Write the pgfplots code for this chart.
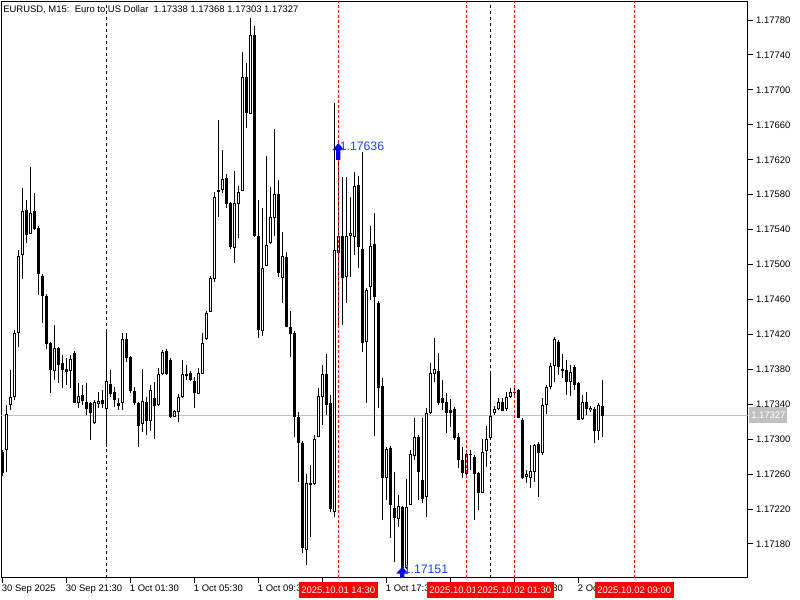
\documentclass[border=0pt]{standalone}
\usepackage{fontspec}
\setmainfont{Liberation Sans}
\usepackage{pgfplots}
\usepackage{pgfplotstable}
\pgfplotsset{compat=1.18}
\newcommand\mtfont{\fontsize{7.1}{8.5}\selectfont}
\newcommand\arrowfont{\fontsize{9.2}{11}\selectfont}
\definecolor{pricegrey}{RGB}{192,192,192}
\definecolor{mtblue}{RGB}{0,0,255}
\definecolor{mtlabel}{RGB}{30,70,255}
\definecolor{mtred}{RGB}{255,0,0}
% MT5 style up arrow, tip at the anchor price
\pgfdeclareplotmark{mtarrow}{%
  \pgfpathmoveto{\pgfqpoint{0pt}{2pt}}%
  \pgfpathlineto{\pgfqpoint{4.4pt}{-3.2pt}}%
  \pgfpathlineto{\pgfqpoint{1.6pt}{-3.2pt}}%
  \pgfpathlineto{\pgfqpoint{1.6pt}{-10.5pt}}%
  \pgfpathlineto{\pgfqpoint{-1.6pt}{-10.5pt}}%
  \pgfpathlineto{\pgfqpoint{-1.6pt}{-3.2pt}}%
  \pgfpathlineto{\pgfqpoint{-4.4pt}{-3.2pt}}%
  \pgfpathclose
  \pgfusepathqfill}

% bar index (0 = 1 Oct 00:00, M15), open, high, low, close
\pgfplotstableread{
x o h l c
-26 1.17285 1.17288 1.17258 1.17261
-25 1.17288 1.17339 1.17262 1.17329
-24 1.17339 1.17379 1.17333 1.17348
-23 1.17348 1.17425 1.17345 1.17422
-22 1.17422 1.17517 1.17406 1.17510
-21 1.17511 1.17588 1.17483 1.17561
-20 1.17562 1.17574 1.17525 1.17534
-19 1.17535 1.17612 1.17535 1.17559
-18 1.17561 1.17582 1.17540 1.17541
-17 1.17542 1.17542 1.17465 1.17489
-16 1.17487 1.17487 1.17433 1.17464
-15 1.17464 1.17464 1.17403 1.17409
-14 1.17410 1.17410 1.17353 1.17379
-13 1.17378 1.17431 1.17368 1.17404
-12 1.17404 1.17404 1.17364 1.17385
-11 1.17387 1.17396 1.17359 1.17379
-10 1.17380 1.17393 1.17362 1.17377
-9 1.17378 1.17396 1.17359 1.17392
-8 1.17399 1.17399 1.17341 1.17341
-7 1.17341 1.17364 1.17336 1.17350
-6 1.17351 1.17362 1.17339 1.17344
-5 1.17343 1.17364 1.17328 1.17335
-4 1.17341 1.17341 1.17299 1.17330
-3 1.17319 1.17345 1.17317 1.17343
-2 1.17340 1.17354 1.17336 1.17344
-1 1.17345 1.17356 1.17336 1.17340
0 1.17335 1.17423 1.17291 1.17367
1 1.17363 1.17379 1.17348 1.17352
2 1.17354 1.17360 1.17337 1.17345
3 1.17341 1.17347 1.17333 1.17338
4 1.17341 1.17422 1.17333 1.17415
5 1.17415 1.17422 1.17388 1.17393
6 1.17394 1.17394 1.17353 1.17355
7 1.17355 1.17360 1.17339 1.17341
8 1.17341 1.17341 1.17291 1.17315
9 1.17317 1.17380 1.17308 1.17344
10 1.17343 1.17348 1.17305 1.17321
11 1.17321 1.17362 1.17309 1.17356
12 1.17347 1.17366 1.17300 1.17338
13 1.17339 1.17382 1.17338 1.17375
14 1.17375 1.17402 1.17374 1.17400
15 1.17401 1.17402 1.17374 1.17375
16 1.17391 1.17392 1.17324 1.17325
17 1.17325 1.17333 1.17325 1.17332
18 1.17331 1.17352 1.17320 1.17348
19 1.17348 1.17391 1.17347 1.17375
20 1.17375 1.17385 1.17368 1.17372
21 1.17376 1.17376 1.17367 1.17368
22 1.17367 1.17371 1.17336 1.17353
23 1.17352 1.17382 1.17352 1.17376
24 1.17375 1.17422 1.17375 1.17410
25 1.17415 1.17446 1.17414 1.17445
26 1.17446 1.17486 1.17446 1.17485
27 1.17483 1.17583 1.17480 1.17577
28 1.17585 1.17666 1.17554 1.17583
29 1.17585 1.17631 1.17582 1.17598
30 1.17599 1.17604 1.17565 1.17569
31 1.17570 1.17570 1.17518 1.17520
32 1.17519 1.17607 1.17502 1.17570
33 1.17569 1.17590 1.17530 1.17583
34 1.17584 1.17743 1.17584 1.17715
35 1.17715 1.17731 1.17656 1.17674
36 1.17672 1.17782 1.17672 1.17763
37 1.17763 1.17773 1.17532 1.17533
38 1.17533 1.17574 1.17416 1.17425
39 1.17424 1.17565 1.17418 1.17496
40 1.17498 1.17624 1.17498 1.17522
41 1.17525 1.17589 1.17524 1.17554
42 1.17553 1.17655 1.17533 1.17581
43 1.17581 1.17597 1.17486 1.17490
44 1.17485 1.17537 1.17456 1.17510
45 1.17509 1.17514 1.17428 1.17428
46 1.17428 1.17447 1.17394 1.17420
47 1.17422 1.17422 1.17303 1.17325
48 1.17325 1.17331 1.17251 1.17296
49 1.17296 1.17297 1.17170 1.17175
50 1.17173 1.17260 1.17156 1.17250
51 1.17250 1.17270 1.17188 1.17248
52 1.17249 1.17305 1.17248 1.17300
53 1.17303 1.17359 1.17303 1.17350
54 1.17348 1.17385 1.17316 1.17375
55 1.17375 1.17398 1.17328 1.17339
56 1.17341 1.17351 1.17217 1.17220
57 1.17217 1.17685 1.17211 1.17517
58 1.17513 1.17636 1.17431 1.17533
59 1.17533 1.17600 1.17431 1.17485
60 1.17486 1.17600 1.17456 1.17533
61 1.17533 1.17577 1.17486 1.17536
62 1.17532 1.17606 1.17511 1.17590
63 1.17591 1.17601 1.17496 1.17520
64 1.17518 1.17629 1.17400 1.17410
65 1.17411 1.17471 1.17341 1.17471
66 1.17474 1.17544 1.17459 1.17521
67 1.17524 1.17559 1.17304 1.17463
68 1.17456 1.17456 1.17336 1.17359
69 1.17361 1.17370 1.17208 1.17256
70 1.17256 1.17289 1.17230 1.17289
71 1.17290 1.17290 1.17187 1.17225
72 1.17221 1.17262 1.17159 1.17210
73 1.17209 1.17236 1.17199 1.17224
74 1.17222 1.17222 1.17151 1.17152
75 1.17153 1.17254 1.17151 1.17222
76 1.17225 1.17288 1.17225 1.17283
77 1.17281 1.17324 1.17276 1.17303
78 1.17303 1.17303 1.17230 1.17262
79 1.17253 1.17324 1.17227 1.17232
80 1.17234 1.17336 1.17211 1.17330
81 1.17330 1.17387 1.17329 1.17376
82 1.17375 1.17416 1.17366 1.17380
83 1.17378 1.17399 1.17339 1.17341
84 1.17347 1.17368 1.17333 1.17341
85 1.17343 1.17353 1.17307 1.17330
86 1.17333 1.17346 1.17314 1.17330
87 1.17335 1.17335 1.17299 1.17301
88 1.17303 1.17307 1.17267 1.17276
89 1.17276 1.17291 1.17256 1.17261
90 1.17260 1.17288 1.17259 1.17283
91 1.17283 1.17288 1.17265 1.17282
92 1.17280 1.17280 1.17208 1.17260
93 1.17261 1.17261 1.17219 1.17238
94 1.17238 1.17300 1.17238 1.17285
95 1.17287 1.17315 1.17268 1.17300
96 1.17301 1.17375 1.17299 1.17327
97 1.17330 1.17338 1.17328 1.17335
98 1.17335 1.17347 1.17333 1.17343
99 1.17343 1.17347 1.17332 1.17332
100 1.17335 1.17354 1.17332 1.17348
101 1.17348 1.17359 1.17347 1.17354
102 1.17353 1.17362 1.17351 1.17354
103 1.17356 1.17356 1.17324 1.17324
104 1.17322 1.17322 1.17254 1.17256
105 1.17257 1.17265 1.17250 1.17260
106 1.17256 1.17293 1.17244 1.17264
107 1.17262 1.17293 1.17251 1.17293
108 1.17295 1.17295 1.17234 1.17284
109 1.17284 1.17347 1.17282 1.17339
110 1.17339 1.17362 1.17329 1.17360
111 1.17360 1.17387 1.17358 1.17384
112 1.17384 1.17415 1.17366 1.17415
113 1.17411 1.17414 1.17374 1.17383
114 1.17380 1.17398 1.17370 1.17378
115 1.17379 1.17391 1.17351 1.17366
116 1.17366 1.17385 1.17350 1.17377
117 1.17383 1.17384 1.17356 1.17362
118 1.17364 1.17364 1.17322 1.17322
119 1.17323 1.17351 1.17322 1.17343
120 1.17343 1.17354 1.17328 1.17335
121 1.17333 1.17337 1.17331 1.17336
122 1.17335 1.17335 1.17296 1.17309
123 1.17309 1.17341 1.17299 1.17339
124 1.17338 1.17368 1.17303 1.17327
}\candles

\begin{document}
\begin{tikzpicture}[x=0.75pt,y=0.75pt]
\useasboundingbox (0,0) rectangle (800,600);
\begin{axis}[
  at={(0.75pt,16.725pt)}, anchor=south west,
  scale only axis, width=559.9pt, height=432.5pt,
  xmin=-26.325, xmax=160.3, ymin=1.171414, ymax=1.178018,
  axis line style={black, line width=0.75pt},
  tick align=outside, major tick length=3.75pt,
  tick style={black, line width=0.75pt},
  xtick pos=left, ytick pos=right, yticklabel pos=right,
  xtick={-26,-10,6,22,38,54,70,86,102,118},
  xticklabels={30 Sep 2025, 30 Sep 21:30, 1 Oct 01:30, 1 Oct 05:30, 1 Oct 09:30, 1 Oct 13:30, 1 Oct 17:30, 1 Oct 21:30, 2 Oct 01:30, 2 Oct 05:30},
  ytick={1.1718,1.1722,1.1726,1.1730,1.1734,1.1738,1.1742,1.1746,1.1750,1.1754,1.1758,1.1762,1.1766,1.1770,1.1774,1.1778},
  yticklabels={1.17180,1.17220,1.17260,1.17300,1.17340,1.17380,1.17420,1.17460,1.17500,1.17540,1.17580,1.17620,1.17660,1.17700,1.17740,1.17780},
  scaled y ticks=false,
  ticklabel style={font=\mtfont},
  xticklabel style={anchor=north west, inner sep=0pt, xshift=-0.5pt, yshift=-1.5pt},
  yticklabel style={anchor=west, inner sep=0pt, xshift=2.5pt},
]
% current bid line and day separators (background)
\addplot[draw=pricegrey, line width=0.75pt, forget plot] coordinates {(-26.325,1.17327) (160.3,1.17327)};
\addplot[draw=black, line width=0.75pt, dash pattern=on 2.25pt off 2.25pt, forget plot] coordinates {(0,1.171414) (0,1.178018)};
\addplot[draw=black, line width=0.75pt, dash pattern=on 2.25pt off 2.25pt, forget plot] coordinates {(96,1.171414) (96,1.178018)};
% wicks
\addplot[draw=none, mark=none, forget plot,
  error bars/.cd, y dir=plus, y explicit, error mark=none,
  error bar style={draw=black, solid, line width=0.75pt}]
  table[x=x, y=l, y error plus expr={\thisrow{h}-\thisrow{l}}] {\candles};
% bodies
\addplot[draw=none, mark=none, forget plot,
  error bars/.cd, y dir=plus, y explicit, error mark=-,
  error mark options={draw=black, solid, line width=0.75pt, mark size=1.2pt},
  error bar style={draw=black, solid, line width=2.4pt}]
  table[x=x, y expr={min(\thisrow{o},\thisrow{c})}, y error plus expr={abs(\thisrow{c}-\thisrow{o})}] {\candles};
% hollow inside of rising candles
\addplot[draw=none, mark=none, forget plot,
  restrict expr to domain={\thisrow{c}-\thisrow{o}}{0.000018:1},
  error bars/.cd, y dir=plus, y explicit, error mark=none,
  error bar style={draw=white, solid, line width=0.9pt, shorten <=0.75pt, shorten >=0.75pt}]
  table[x=x, y=o, y error plus expr={\thisrow{c}-\thisrow{o}}] {\candles};
% vertical lines of the drawn objects
\addplot[draw=mtred, color=mtred, line width=0.75pt, dash pattern=on 2.25pt off 1.5pt, forget plot] coordinates {(58,1.171414) (58,1.178018)};
\addplot[draw=mtred, color=mtred, line width=0.75pt, dash pattern=on 2.25pt off 1.5pt, forget plot] coordinates {(90,1.171414) (90,1.178018)};
\addplot[draw=mtred, color=mtred, line width=0.75pt, dash pattern=on 2.25pt off 1.5pt, forget plot] coordinates {(102,1.171414) (102,1.178018)};
\addplot[draw=mtred, color=mtred, line width=0.75pt, dash pattern=on 2.25pt off 1.5pt, forget plot] coordinates {(132,1.171414) (132,1.178018)};
% arrows at the high and the low
\addplot[only marks, mark=mtarrow, color=mtblue, fill=mtblue, clip marker paths=true,
  nodes near coords, point meta=explicit symbolic,
  nodes near coords style={anchor=west, text=mtlabel, font=\arrowfont, inner sep=0pt, xshift=0.9pt}]
  coordinates {(58,1.17636) [1.17636] (74,1.17151) [1.17151]};
\end{axis}
% header
\node[anchor=west, inner sep=0pt, font=\mtfont] at (3,590.5) {EURUSD, M15:\ \ Euro to US Dollar\ \ 1.17338 1.17368 1.17303 1.17327};
% bid label on the price scale
\node[anchor=west, fill=pricegrey, text=white, font=\mtfont, inner xsep=1.5pt, minimum height=9pt] at (749,185) {1.17327};
% time labels of the vertical lines
\node[fill=mtred, text=white, font=\mtfont, inner xsep=2pt, minimum height=9.5pt] at (338.3,10) {2025.10.01 14:30};
\node[fill=mtred, text=white, font=\mtfont, inner xsep=2pt, minimum height=9.5pt] at (466.3,10) {2025.10.01 22:30};
\node[fill=mtred, text=white, font=\mtfont, inner xsep=2pt, minimum height=9.5pt] at (514.3,10) {2025.10.02 01:30};
\node[fill=mtred, text=white, font=\mtfont, inner xsep=2pt, minimum height=9.5pt] at (634.3,10) {2025.10.02 09:00};
\end{tikzpicture}
\end{document}
